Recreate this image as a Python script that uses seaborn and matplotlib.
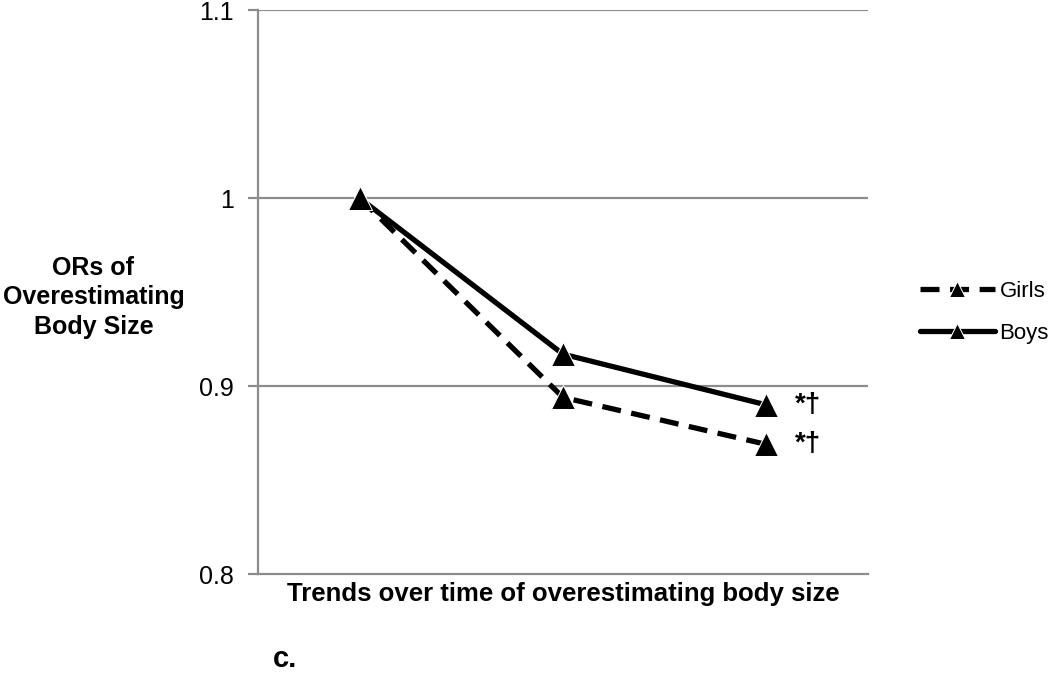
import pandas as pd
import matplotlib
matplotlib.use('Agg')
from matplotlib import pyplot as plt
import seaborn as sns

# 数据
time_points = ['T1', 'T2', 'T3']
girls = [1.0, 0.894, 0.869]
boys = [1.0, 0.917, 0.890]
marks = ['*†', '*†']

sns.set_style('white')
plt.rcParams['font.family'] = ['Liberation Sans', 'DejaVu Sans']
plt.rcParams['text.color'] = 'black'
plt.rcParams['axes.labelcolor'] = 'black'
plt.rcParams['ytick.labelcolor'] = 'black'

df = pd.DataFrame({
    'time': time_points * 2,
    'OR': girls + boys,
    'sex': ['Girls'] * 3 + ['Boys'] * 3,
})

fig = plt.figure(figsize=(10.5, 6.77), dpi=100)
ax = fig.add_axes([0.2457, 0.152, 0.5810, 0.833])

grid_c = '#8c8c8c'
for v in [0.9, 1.0, 1.1]:
    ax.axhline(v, color=grid_c, lw=1.6, zorder=0)

sns.lineplot(data=df, x='time', y='OR', hue='sex', style='sex',
             palette={'Girls': 'black', 'Boys': 'black'},
             dashes={'Girls': (3.6, 2.0), 'Boys': ''},
             markers={'Girls': '^', 'Boys': '^'},
             markersize=17, lw=3.8, sort=False, ax=ax, legend=True)

ax.set_xlim(-0.5, 2.5)
ax.set_ylim(0.8, 1.1)
ax.set_yticks([0.8, 0.9, 1.0, 1.1])
ax.set_yticklabels(['0.8', '0.9', '1', '1.1'], fontsize=18)
ax.set_xticks([])
ax.tick_params(axis='y', length=7.2, width=1.6, color=grid_c, pad=10, left=True)

for side in ['top', 'right']:
    ax.spines[side].set_visible(False)
for side in ['left', 'bottom']:
    ax.spines[side].set_color(grid_c)
    ax.spines[side].set_linewidth(1.6)

# 注释
ax.text(2.14, boys[2], marks[0], fontsize=20, fontweight='bold', va='center', ha='left')
ax.text(2.14, girls[2], marks[1], fontsize=20, fontweight='bold', va='center', ha='left')

ax.set_xlabel('Trends over time of overestimating body size', fontsize=18.5,
              fontweight='bold', labelpad=6)
ax.set_ylabel('')
fig.text(0.089, 0.561, 'ORs of\nOverestimating\nBody Size', fontsize=18,
         fontweight='bold', ha='center', va='center', linespacing=1.3)
fig.text(0.26, 0.015, 'c.', fontsize=21, fontweight='bold', ha='left', va='baseline')

handles, labels = ax.get_legend_handles_labels()
leg = ax.legend(handles, labels, loc='center left', bbox_to_anchor=(0.861, 0.539),
                bbox_transform=fig.transFigure, frameon=False, fontsize=16,
                handlelength=3.4, handletextpad=0.2, labelspacing=0.95,
                markerscale=0.7, borderpad=0.2)

fig.savefig('out.png', dpi=100)
